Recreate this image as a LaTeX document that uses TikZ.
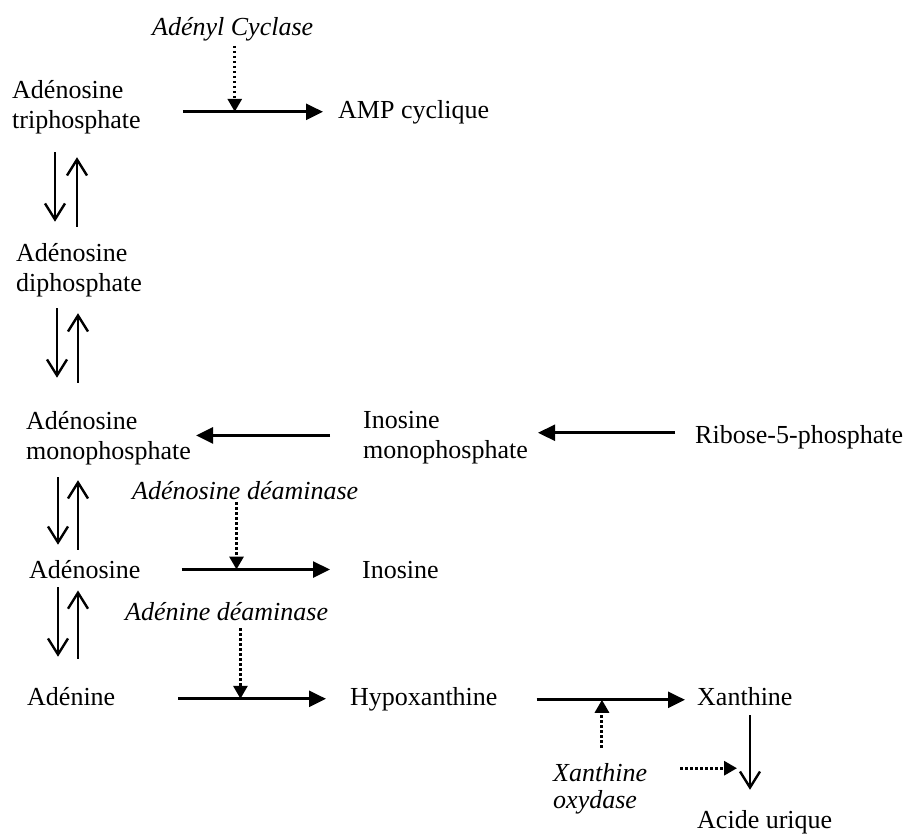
\documentclass[tikz,border=0pt]{standalone}
\usepackage{fontspec}
\setmainfont{Liberation Serif}
\usetikzlibrary{calc}
\usetikzlibrary{arrows.meta}
\usetikzlibrary{positioning}

\begin{document}
\begin{tikzpicture}[
		x=1pt,y=-1pt,
		Metab/.style={inner sep=0pt,anchor=base west,align=left,font=\fontsize{26}{30.5}\selectfont},
		Enzyme/.style={Metab,font=\fontsize{26}{27}\selectfont\itshape},
		Reaction/.style={draw=black,line width=2.6pt,-{Triangle[length=17pt,width=16pt]}},
		Equil/.style={draw=black,line width=2.4pt,-{Straight Barb[length=16pt,width=20pt]}},
		Catal/.style={draw=black,line width=3pt,dash pattern=on 2.5pt off 2.5pt,-{Triangle[length=13pt,width=14pt]}}
		]
		\useasboundingbox (0,0) rectangle (910,833);
		
		% metabolites (two-line nodes sit on their last line)
		\node[Metab] (atp) at (12,128.5) {Adénosine\\triphosphate};
		\node[Metab] (camp) at (338,118) {AMP cyclique};
		\node[Metab] (adp) at (16,291.5) {Adénosine\\diphosphate};
		\node[Metab] (amp) at (26,459.5) {Adénosine\\monophosphate};
		\node[Metab] (imp) at (363,458.5) {Inosine\\monophosphate};
		\node[Metab] (rib) at (695,443) {Ribose-5-phosphate};
		\node[Metab] (ado) at (29,578) {Adénosine};
		\node[Metab] (ino) at (362,578) {Inosine};
		\node[Metab] (ade) at (27,705) {Adénine};
		\node[Metab] (hyp) at (350,705) {Hypoxanthine};
		\node[Metab] (xan) at (697,705) {Xanthine};
		\node[Metab] (uric) at (697,828) {Acide urique};
		
		% enzymes
		\node[Enzyme] (adc) at (152,35) {Adényl Cyclase};
		\node[Enzyme] (add) at (132,499) {Adénosine déaminase};
		\node[Enzyme] (aed) at (125,620) {Adénine déaminase};
		\node[Enzyme] (xo) at (553,808) {Xanthine\\oxydase};
		
		% ATP -> AMP cyclique
		\draw[Reaction] ($(atp.east |- camp.west)+(42,0)$) -- coordinate[pos=0.37] (c1) ($(camp.west)+(-15,0)$);
		\draw[Catal] ($(adc.south -| c1)+(0,5)$) -- (c1);
		
		% ATP <-> ADP <-> AMP <-> adenosine <-> adenine
		\draw[Equil] ($(atp.south west)+(43,18)$) -- ($(atp.south west |- adp.north)+(43,-21)$);
		\draw[Equil] ($(atp.south west |- adp.north)+(65,-16)$) -- ($(atp.south west)+(65,23)$);
		
		\draw[Equil] ($(adp.south west)+(41,11)$) -- ($(adp.south west |- amp.north)+(41,-33)$);
		\draw[Equil] ($(adp.south west |- amp.north)+(62,-28)$) -- ($(adp.south west)+(62,16)$);
		
		\draw[Equil] ($(amp.south west)+(32,12)$) -- ($(amp.south west |- ado.north)+(32,-15)$);
		\draw[Equil] ($(amp.south west |- ado.north)+(52,-10)$) -- ($(amp.south west)+(52,15)$);
		
		\draw[Equil] ($(ado.south west)+(29,9)$) -- ($(ado.south west |- ade.north)+(29,-30)$);
		\draw[Equil] ($(ado.south west |- ade.north)+(49,-28)$) -- ($(ado.south west)+(49,12)$);
		
		% IMP -> AMP, ribose -> IMP
		\draw[Reaction] ($(imp.west)+(-33,-2)$) -- ($(imp.west -| amp.east)+(5,-2)$);
		\draw[Reaction] ($(rib.west)+(-20,-4)$) -- ($(rib.west -| imp.east)+(10,-4)$);
		
		% adenosine -> inosine
		\draw[Reaction] ($(ado.east |- ino.west)+(41,0)$) -- coordinate[pos=0.37] (c2) ($(ino.west)+(-32,0)$);
		\draw[Catal] ($(add.south -| c2)+(0,3)$) -- (c2);
		
		% adenine -> hypoxanthine
		\draw[Reaction] ($(ade.east |- hyp.west)+(63,0)$) -- coordinate[pos=0.42] (c3) ($(hyp.west)+(-24,0)$);
		\draw[Catal] ($(aed.south -| c3)+(0,8)$) -- (c3);
		
		% hypoxanthine -> xanthine -> acide urique
		\draw[Reaction] ($(hyp.east)+(39,1)$) -- coordinate[pos=0.44] (c4) ($(hyp.east -| xan.west)+(-12,1)$);
		\draw[Catal] ($(xo.north -| c4)+(0,-15)$) -- (c4);
		
		\draw[Equil] ($(xan.south west)+(53,10)$) -- coordinate[pos=0.71] (c5) ($(xan.south west |- uric.north)+(53,-20)$);
		\draw[Catal] ($(xo.east |- c5)+(33,0)$) -- ($(c5)+(-13,0)$);
		
\end{tikzpicture}
\end{document}
